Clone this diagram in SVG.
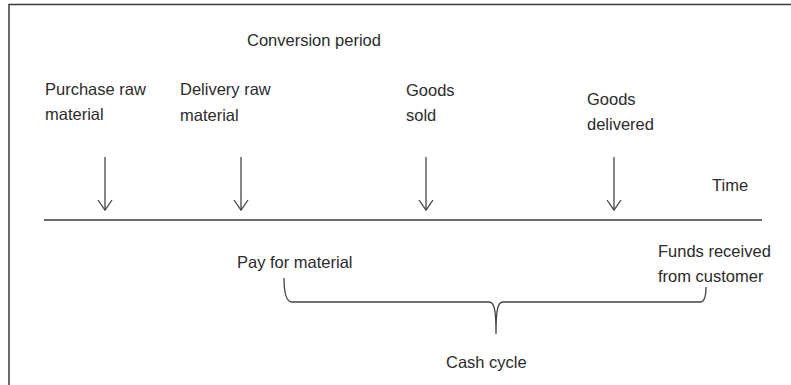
<svg xmlns="http://www.w3.org/2000/svg" width="791" height="385" viewBox="0 0 791 385">
<defs>
<style>
text{font-family:"Liberation Sans",Arial,sans-serif;font-size:16.5px;fill:#2b2b2b}
.ln{stroke:#3a3a3a;stroke-width:1.5;fill:none}
.ar{stroke:#444;stroke-width:1.3;fill:none}
</style>
<marker id="open" markerWidth="14" markerHeight="16" refX="11" refY="8" orient="auto" markerUnits="userSpaceOnUse" viewBox="0 0 14 16">
<path d="M1,1 L11,8 L1,15" fill="none" stroke="#444" stroke-width="1.3"/>
</marker>
</defs>
<rect width="791" height="385" fill="#fff"/>
<path class="ln" d="M9,385 V4.5 H791" stroke-width="2"/>
<g id="conversion"><text x="247" y="46">Conversion period</text></g>
<g id="purchase"><text x="45" y="95">Purchase raw</text><text x="45" y="120">material</text></g>
<g id="delivery"><text x="180" y="95">Delivery raw</text><text x="180" y="121">material</text></g>
<g id="sold"><text x="406" y="96">Goods</text><text x="406" y="121">sold</text></g>
<g id="delivered"><text x="587" y="105">Goods</text><text x="587" y="130">delivered</text></g>
<g id="time"><text x="712" y="191">Time</text></g>
<g id="pay"><text x="237" y="268">Pay for material</text></g>
<g id="funds"><text x="658" y="257">Funds received</text><text x="658" y="282">from customer</text></g>
<g id="cash"><text x="446" y="368">Cash cycle</text></g>
<g id="connectors">
<path class="ar" d="M105,157 V210" marker-end="url(#open)"/>
<path class="ar" d="M241,157 V210" marker-end="url(#open)"/>
<path class="ar" d="M426,157 V210" marker-end="url(#open)"/>
<path class="ar" d="M614,157 V210" marker-end="url(#open)"/>
<path class="ln" d="M44,220 H762"/>
<path class="ar" d="M284,278 C284,290 285,302 292,302 H489 C494,302 496,308 496,334 C496,308 498,302 503,302 H700 C704,302 706,296 706,287"/>
</g>
</svg>
